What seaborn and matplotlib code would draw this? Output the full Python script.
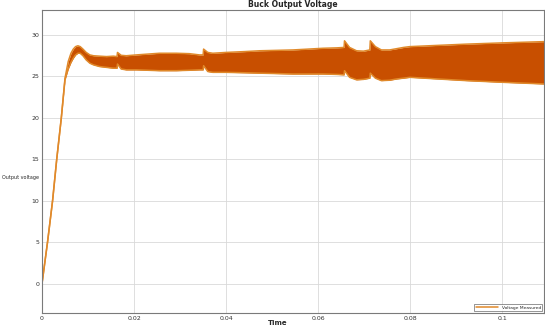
import numpy as np
import pandas as pd
import seaborn as sns
from matplotlib import pyplot as plt


# envelope of the switching ripple
t = [0, 0.0012, 0.0023, 0.0032, 0.0042, 0.0050, 0.0057, 0.0063, 0.0068, 0.0073,
     0.0078, 0.0083, 0.0089, 0.0096, 0.0104, 0.0112, 0.0125, 0.0140, 0.0155, 0.0163,
     0.0164, 0.0172, 0.0183, 0.0205, 0.0230, 0.0255, 0.0292, 0.0320, 0.0342, 0.0350,
     0.0351, 0.0360, 0.0371, 0.0400, 0.0440, 0.0473, 0.0510, 0.0545, 0.0578, 0.0610,
     0.0640, 0.0656, 0.0657, 0.0668, 0.0683, 0.0698, 0.0712, 0.0713, 0.0724, 0.0737,
     0.0755, 0.0770, 0.0785, 0.0799, 0.0860, 0.0922, 0.1000, 0.1090]

v_upper = [0, 5, 10, 15, 20, 24.8, 26.8, 27.8, 28.3, 28.6,
           28.7, 28.6, 28.3, 27.9, 27.6, 27.5, 27.45, 27.4, 27.45, 27.4,
           27.9, 27.55, 27.5, 27.6, 27.7, 27.8, 27.8, 27.75, 27.6, 27.6,
           28.3, 27.9, 27.8, 27.9, 28.0, 28.1, 28.15, 28.2, 28.3, 28.4,
           28.45, 28.5, 29.3, 28.5, 28.1, 28.05, 28.2, 29.3, 28.6, 28.2,
           28.2, 28.35, 28.5, 28.6, 28.75, 28.9, 29.05, 29.2]

v_lower = [0, 5, 10, 15, 20, 24.6, 25.9, 26.7, 27.2, 27.6,
           27.8, 27.8, 27.5, 27.0, 26.6, 26.4, 26.2, 26.1, 26.0, 26.0,
           26.5, 25.9, 25.8, 25.8, 25.75, 25.7, 25.7, 25.75, 25.8, 25.8,
           26.3, 25.6, 25.5, 25.5, 25.45, 25.4, 25.35, 25.3, 25.3, 25.3,
           25.25, 25.2, 25.7, 24.9, 24.6, 24.65, 24.8, 25.4, 24.8, 24.5,
           24.55, 24.7, 24.8, 24.9, 24.7, 24.5, 24.3, 24.1]

xticks = [0, 0.02, 0.04, 0.06, 0.08, 0.1]
xtick_labels = ['0', '0.02', '0.04', '0.06', '0.08', '0.1']
yticks = [0, 5, 10, 15, 20, 25, 30]

df = pd.DataFrame({'Time': t, 'upper': v_upper, 'lower': v_lower})

sns.set_style("whitegrid", {'grid.color': '#d9d9d9', 'axes.edgecolor': '#7a7a7a'})

fig = plt.figure(figsize=(5.45, 3.26), dpi=100)
ax = fig.add_axes([0.077, 0.04, 0.921, 0.929])

ax.fill_between(df['Time'], df['lower'], df['upper'], color='#c84f00', linewidth=0)
sns.lineplot(data=df, x='Time', y='upper', color='#e0892a', linewidth=1.1, ax=ax,
             label='Voltage Measured')
sns.lineplot(data=df, x='Time', y='lower', color='#e0892a', linewidth=1.1, ax=ax)

ax.set_xlim(0, 0.109)
ax.set_ylim(-3.5, 33)
ax.set_xticks(xticks)
ax.set_xticklabels(xtick_labels)
ax.set_yticks(yticks)
ax.tick_params(labelsize=4.5, colors='#333333', pad=2, length=0)
ax.grid(True, linewidth=0.6)
for s in ax.spines.values():
    s.set_linewidth(0.8)

ax.set_title('Buck Output Voltage', fontsize=5.5, fontweight='bold', pad=2)
ax.set_xlabel('Time', fontsize=5, fontweight='bold')
ax.xaxis.set_label_coords(0.47, -0.022)
ax.set_ylabel('Output voltage', fontsize=3.5, rotation=0, ha='right')
ax.yaxis.set_label_coords(-0.005, 0.44)

leg = ax.legend(loc='lower right', fontsize=3.2, frameon=True, handlelength=5,
                borderpad=0.3, borderaxespad=0.4, fancybox=False, edgecolor='#444444')
leg.get_frame().set_linewidth(0.5)

plt.savefig("out.png", dpi=100)
